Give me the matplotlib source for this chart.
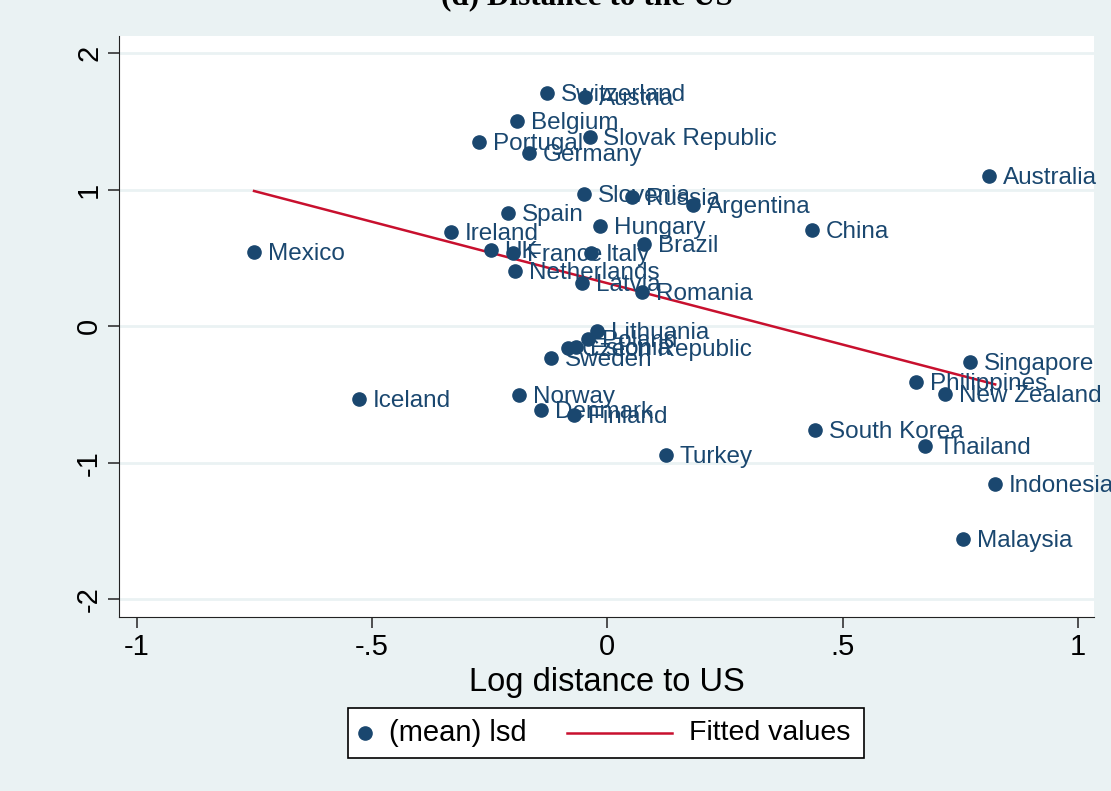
import numpy as np
import matplotlib.pyplot as plt
from matplotlib.lines import Line2D
from matplotlib.patches import Rectangle

# Country-level means: log distance to US vs lsd
countries = ['Mexico', 'Iceland', 'Ireland', 'UK', 'France', 'Netherlands', 'Spain',
             'Portugal', 'Belgium', 'Germany', 'Switzerland', 'Austria', 'Slovak Republic',
             'Slovenia', 'Russia', 'Argentina', 'Hungary', 'Italy', 'Brazil', 'Latvia',
             'Romania', 'China', 'Australia', 'Lithuania', 'Poland', 'Estonia',
             'Czech Republic', 'Sweden', 'Norway', 'Denmark', 'Finland', 'Turkey',
             'South Korea', 'Singapore', 'Philippines', 'New Zealand', 'Thailand',
             'Indonesia', 'Malaysia']
log_dist = [-0.751, -0.529, -0.333, -0.248, -0.201, -0.196, -0.211,
            -0.273, -0.192, -0.166, -0.128, -0.047, -0.038,
            -0.049, 0.053, 0.181, -0.015, -0.034, 0.077, -0.053,
            0.073, 0.435, 0.811, -0.023, -0.041, -0.066,
            -0.083, -0.119, -0.188, -0.141, -0.070, 0.124,
            0.442, 0.771, 0.655, 0.717, 0.674,
            0.824, 0.756]
lsd = [0.546, -0.531, 0.692, 0.560, 0.538, 0.407, 0.832,
       1.352, 1.505, 1.271, 1.711, 1.681, 1.388,
       0.971, 0.949, 0.890, 0.736, 0.538, 0.604, 0.319,
       0.253, 0.707, 1.103, -0.033, -0.091, -0.150,
       -0.158, -0.231, -0.502, -0.612, -0.648, -0.941,
       -0.758, -0.260, -0.407, -0.495, -0.875,
       -1.154, -1.557]

x_ticks = [-1, -0.5, 0, 0.5, 1]
x_tick_labels = ['-1', '-.5', '0', '.5', '1']
y_ticks = [-2, -1, 0, 1, 2]
y_tick_labels = ['-2', '-1', '0', '1', '2']

navy = '#1a476f'
red = '#c8102e'
bg = '#eaf2f3'

x = np.array(log_dist)
y = np.array(lsd)
slope, intercept = np.polyfit(x, y, 1)
xfit = np.array([x.min(), x.max()])
yfit = intercept + slope * xfit

plt.rcParams['font.family'] = ['Liberation Sans', 'DejaVu Sans']
plt.rcParams['axes.unicode_minus'] = False

fig = plt.figure(figsize=(11.11, 7.91), dpi=100, facecolor=bg)
ax = fig.add_axes([0.1071, 0.2200, 0.8776, 0.7345])
ax.set_facecolor('white')

for t in y_ticks:
    ax.axhline(t, color=bg, lw=2, zorder=0)

ax.plot(x, y, 'o', color=navy, ms=9.5, zorder=3)
ax.plot(xfit, yfit, color=red, lw=1.8, zorder=2)

for name, xi, yi in zip(countries, x, y):
    ax.annotate(name, (xi, yi), xytext=(10, -1.5), textcoords='offset points',
                va='center', ha='left', fontsize=17.5, color=navy, zorder=4,
                annotation_clip=False)

ax.set_xlim(-1.038, 1.034)
ax.set_ylim(-2.130, 2.127)
ax.set_xticks(x_ticks)
ax.set_xticklabels(x_tick_labels)
ax.set_yticks(y_ticks)
ax.set_yticklabels(y_tick_labels, rotation=90, va='center')
ax.tick_params(axis='both', labelsize=21, length=8, width=1.2, color='#333333')
ax.spines['top'].set_visible(False)
ax.spines['right'].set_visible(False)
ax.spines['left'].set_color('#222222')
ax.spines['bottom'].set_color('#222222')
ax.set_xlabel('Log distance to US', fontsize=23.5, labelpad=4)

# legend box drawn in figure pixels (Stata-style layout)
W, H = 1111, 791
def fx(px):
    return px / W
def fy(py):
    return 1 - py / H

fig.add_artist(Rectangle((fx(348), fy(758)), fx(864) - fx(348), fy(708) - fy(758),
                         transform=fig.transFigure, facecolor='white',
                         edgecolor='black', lw=1.2))
fig.add_artist(Line2D([fx(365)], [fy(733)], marker='o', color=navy, ms=9.5,
                      transform=fig.transFigure))
fig.text(fx(389), fy(733), '(mean) lsd', fontsize=21, va='center', ha='left')
fig.add_artist(Line2D([fx(567), fx(672)], [fy(733), fy(733)], color=red, lw=1.8,
                      transform=fig.transFigure))
fig.text(fx(689), fy(733), 'Fitted values', fontsize=20.5, va='center', ha='left')

fig.text(fx(587), fy(4), '(d) Distance to the US', ha='center', va='baseline',
         fontsize=22.5, fontweight='bold', family=['Liberation Serif', 'DejaVu Serif'])

fig.savefig('out.png', dpi=100, facecolor=bg)
